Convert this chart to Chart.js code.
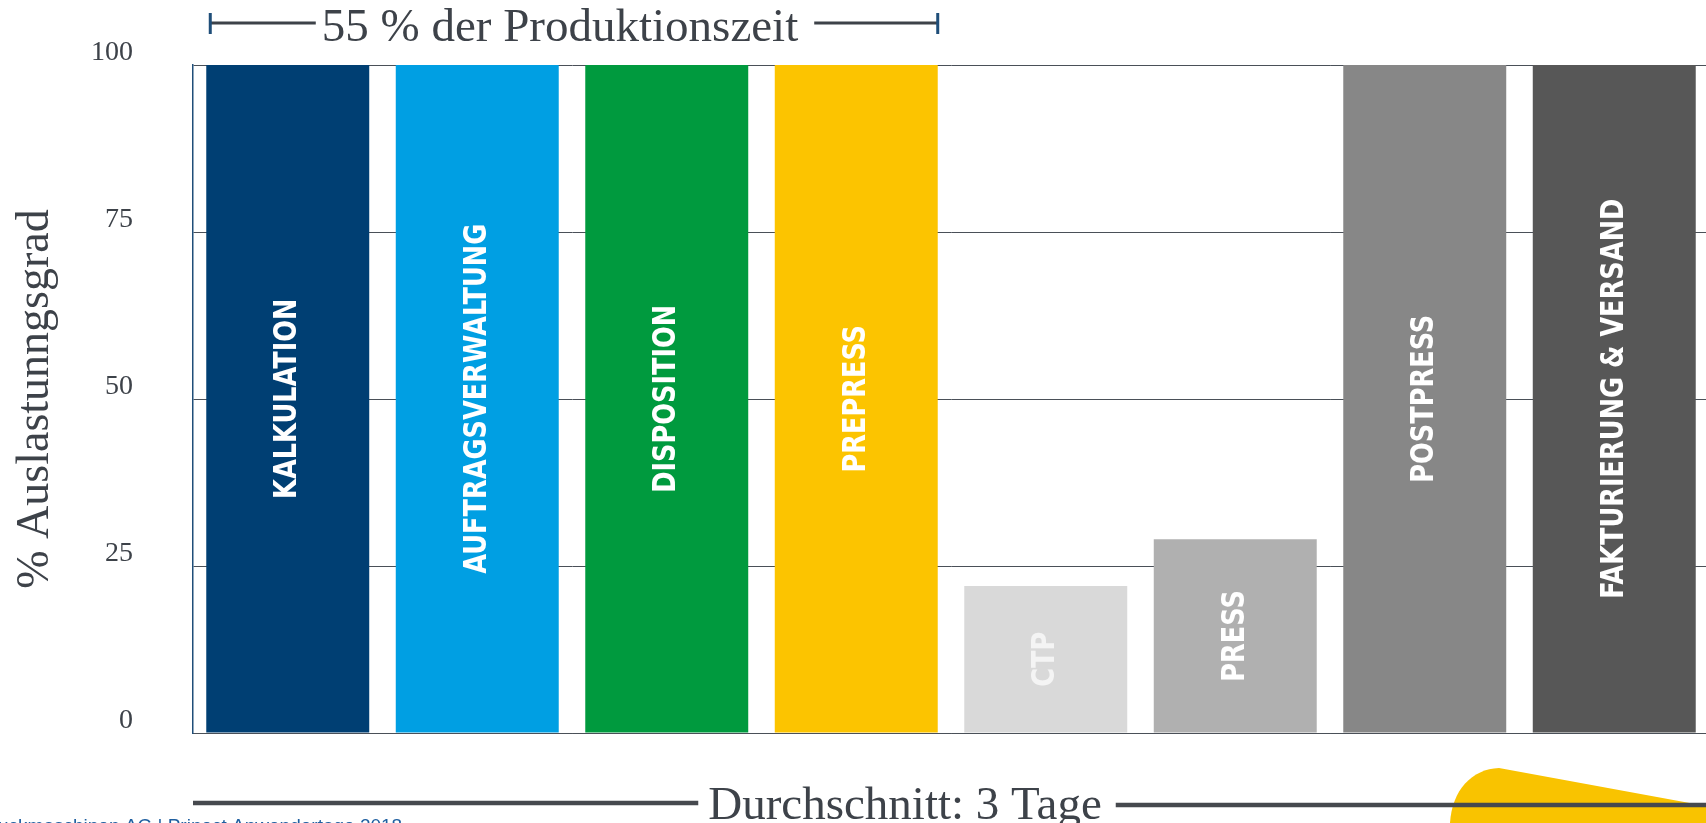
<!DOCTYPE html>
<html>
<head>
<meta charset="utf-8">
<script src="https://cdn.jsdelivr.net/npm/chart.js@4"></script>
<style>
  html, body { margin: 0; padding: 0; background: #fff; overflow: hidden; }
  #wrap { width: 1706px; height: 823px; overflow: hidden; }
</style>
</head>
<body>
<div id="wrap"><canvas id="chart" width="1710" height="823"></canvas></div>
<script>
// Daten
const categories = ["KALKULATION", "AUFTRAGSVERWALTUNG", "DISPOSITION", "PREPRESS", "CTP", "PRESS", "POSTPRESS", "FAKTURIERUNG & VERSAND"]
const auslastung = [100, 100, 100, 100, 22, 29, 100, 100]
const yTicks = [0, 25, 50, 75, 100]
const barColors = ["#003f73", "#009fe3", "#009a3e", "#fcc400", "#d9d9d9", "#b0b0b0", "#878787", "#575757"]

const yTitle = "% Auslastunngsgrad"
const topNote = "55 % der Produktionszeit"
const bottomNote = "Durchschnitt: 3 Tage"
const footer = "Heidelberger Druckmaschinen AG | Prinect Anwendertage 2018"

const serif = '"Liberation Serif", "DejaVu Serif", serif'
const narrow = '"Liberation Sans Narrow", "DejaVu Sans Condensed", "Roboto", sans-serif'

// Beschriftung in den Balken (senkrecht)
const barLabels = {
  id: "barLabels",
  afterDatasetsDraw(chart) {
    const ctx = chart.ctx
    const meta = chart.getDatasetMeta(0)
    meta.data.forEach((bar, i) => {
      ctx.save()
      ctx.translate(bar.x, (bar.y + bar.base) / 2)
      ctx.rotate(-Math.PI / 2)
      ctx.scale(0.89, 1)
      ctx.font = "bold 32px " + narrow
      ctx.fillStyle = i === 4 ? "#f4f4f4" : "#ffffff"
      ctx.textAlign = "center"
      ctx.textBaseline = "middle"
      ctx.fillText(categories[i], 0, 0)
      ctx.restore()
    })
  }
}

// Klammer oben, Linie unten, Deko
const notes = {
  id: "notes",
  afterDraw(chart) {
    const ctx = chart.ctx
    const area = chart.chartArea
    const bars = chart.getDatasetMeta(0).data
    const left = bars[0].x - bars[0].width / 2 + 4
    const right = bars[3].x + bars[3].width / 2

    ctx.save()
    // 55 % der Produktionszeit
    ctx.font = "47px " + serif
    ctx.fillStyle = "#3d4249"
    ctx.textAlign = "center"
    ctx.textBaseline = "alphabetic"
    const tx = 560
    const tw = ctx.measureText(topNote).width
    ctx.fillText(topNote, tx, 41)
    ctx.strokeStyle = "#3d4249"
    ctx.lineWidth = 3
    ctx.beginPath()
    ctx.moveTo(left, 23); ctx.lineTo(tx - tw / 2 - 6, 23)
    ctx.moveTo(tx + tw / 2 + 16, 23); ctx.lineTo(right, 23)
    ctx.stroke()
    ctx.strokeStyle = "#1f4e79"
    ctx.beginPath()
    ctx.moveTo(left, 13); ctx.lineTo(left, 34)
    ctx.moveTo(right, 13); ctx.lineTo(right, 34)
    ctx.stroke()

    // gelbe Form unten rechts
    ctx.fillStyle = "#f9c300"
    ctx.beginPath()
    ctx.moveTo(1450, 823)
    ctx.bezierCurveTo(1452, 790, 1472, 769, 1499, 768)
    ctx.lineTo(1706, 806)
    ctx.lineTo(1706, 823)
    ctx.closePath()
    ctx.fill()

    // Durchschnitt: 3 Tage
    ctx.font = "47px " + serif
    ctx.fillStyle = "#3d4249"
    ctx.textAlign = "center"
    const bx = 905
    const bw = ctx.measureText(bottomNote).width
    ctx.fillText(bottomNote, bx, 819)
    ctx.strokeStyle = "#46494e"
    ctx.lineWidth = 4.5
    ctx.beginPath()
    ctx.moveTo(area.left, 803); ctx.lineTo(bx - bw / 2 - 10, 803)
    ctx.moveTo(bx + bw / 2 + 14, 805); ctx.lineTo(1706, 805)
    ctx.stroke()

    // Fußzeile (links abgeschnitten)
    ctx.font = "19px " + '"Liberation Sans", Arial, sans-serif'
    ctx.fillStyle = "#1f5fa0"
    ctx.textAlign = "left"
    const cut = ctx.measureText("Heidelberger Dr").width
    ctx.fillText(footer, -cut - 2, 832)
    ctx.restore()
  }
}

const ctx = document.getElementById("chart")

new Chart(ctx, {
  type: "bar",
  data: {
    labels: categories,
    datasets: [{
      data: auslastung,
      backgroundColor: barColors,
      borderWidth: 0,
      barPercentage: 0.86,
      categoryPercentage: 1
    }]
  },
  options: {
    responsive: false,
    animation: false,
    layout: { padding: { top: 65, bottom: 90, left: 0, right: 1 } },
    plugins: {
      legend: { display: false },
      tooltip: { enabled: false }
    },
    scales: {
      x: {
        grid: { display: false, drawTicks: false },
        ticks: { display: false },
        border: { display: true, color: "#4a5058", width: 1 },
        afterFit: s => { s.height = 0 }
      },
      y: {
        min: 0,
        max: 100,
        afterBuildTicks: s => { s.ticks = yTicks.map(v => ({ value: v })) },
        afterFit: s => {
          s.width = 193
          s.paddingTop = 0
          s.paddingBottom = 0
        },
        grid: { color: "#4a5058", lineWidth: 1, drawTicks: false },
        border: { display: true, color: "#1f4e79", width: 1.5 },
        ticks: {
          font: { family: serif, size: 28 },
          color: "#3d4249",
          padding: 60,
          crossAlign: "near",
          labelOffset: -12
        },
        title: {
          display: true,
          text: yTitle,
          font: { family: serif, size: 46 },
          color: "#3d4249",
          padding: { top: 8, bottom: 0 }
        }
      }
    }
  },
  plugins: [barLabels, notes]
})
</script>
</body>
</html>
